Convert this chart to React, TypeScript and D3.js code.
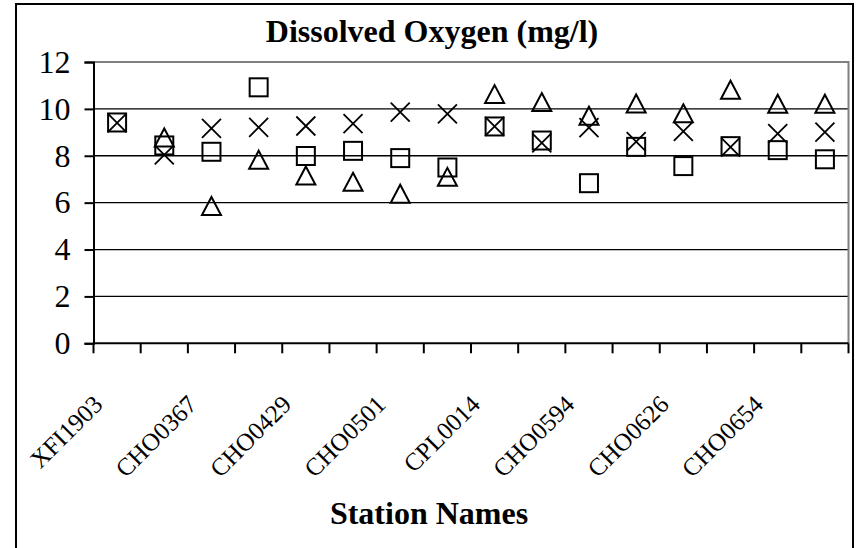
import React, { useEffect, useRef } from "react";
import * as d3 from "d3";

const stationLabels = ["XFI1903", "", "CHO0367", "", "CHO0429", "", "CHO0501", "", "CPL0014", "", "CHO0594", "", "CHO0626", "", "CHO0654", ""];
const squareSeries: (number | null)[] = [9.42, 8.44, 8.17, 10.92, 7.99, 8.21, 7.9, 7.5, 9.25, 8.65, 6.83, 8.38, 7.56, 8.41, 8.24, 7.85];
const triangleSeries: (number | null)[] = [null, 8.78, 5.86, 7.83, 7.16, 6.89, 6.38, 7.1, 10.63, 10.29, 9.71, 10.23, 9.81, 10.82, 10.22, 10.22];
const crossSeries: (number | null)[] = [9.4, 8.04, 9.17, 9.21, 9.27, 9.37, 9.86, 9.79, 9.25, 8.55, 9.2, 8.6, 9.04, 8.37, 8.94, 9.01];
const yTicks = [0, 2, 4, 6, 8, 10, 12];
const titleText = "Dissolved Oxygen (mg/l)";
const xTitleText = "Station Names";

const W = 858;
const H = 548;
const FONT = "'Liberation Serif', 'Times New Roman', serif";

export default function App() {
  const ref = useRef<SVGSVGElement | null>(null);

  useEffect(() => {
    const svg = d3.select(ref.current);
    svg.selectAll("*").remove();

    const plot = { left: 93.5, right: 848.5, top: 62, bottom: 343.3 };
    const idx = stationLabels.map((_, i) => i);
    const x = d3.scaleBand<number>().domain(idx).range([plot.left, plot.right]).padding(0);
    const y = d3.scaleLinear().domain([0, 12]).range([plot.bottom, plot.top]);

    svg.append("rect").attr("width", W).attr("height", H).attr("fill", "#fff");

    // outer border
    svg.append("rect")
      .attr("x", 16).attr("y", 4).attr("width", 837).attr("height", 570)
      .attr("fill", "none").attr("stroke", "#000").attr("stroke-width", 2);

    // gridlines
    svg.append("g").selectAll("line").data(yTicks.filter(t => t > 0 && t < 12)).join("line")
      .attr("x1", plot.left).attr("x2", plot.right)
      .attr("y1", d => y(d)).attr("y2", d => y(d))
      .attr("stroke", "#000").attr("stroke-width", 1.3);

    // plot area frame (gray top/right)
    svg.append("path")
      .attr("d", `M${plot.left},${plot.top}H${plot.right}V${plot.bottom}`)
      .attr("fill", "none").attr("stroke", "#808080").attr("stroke-width", 2);

    // y axis
    const yAxis = d3.axisLeft(y).tickValues(yTicks).tickSize(9).tickPadding(14);
    const gy = svg.append("g").attr("transform", `translate(${plot.left},0)`).call(yAxis);
    gy.select(".domain").attr("stroke", "#000").attr("stroke-width", 2);
    gy.selectAll(".tick line").attr("stroke", "#000").attr("stroke-width", 2);
    gy.selectAll(".tick text").attr("font-family", FONT).attr("font-size", 32).attr("fill", "#000");

    // x axis with boundary ticks
    const bounds = d3.range(stationLabels.length + 1).map(i => plot.left + i * x.bandwidth());
    svg.append("line").attr("x1", plot.left).attr("x2", plot.right).attr("y1", plot.bottom).attr("y2", plot.bottom)
      .attr("stroke", "#000").attr("stroke-width", 2);
    svg.append("g").selectAll("line").data(bounds).join("line")
      .attr("x1", d => d).attr("x2", d => d).attr("y1", plot.bottom).attr("y2", plot.bottom + 10)
      .attr("stroke", "#000").attr("stroke-width", 2);

    // x labels
    svg.append("g").selectAll("text").data(idx.filter(i => stationLabels[i] !== "")).join("text")
      .attr("x", 0).attr("y", 0)
      .attr("transform", i => `translate(${(x(i) as number) + x.bandwidth() / 2 - 13},${406}) rotate(-45)`)
      .attr("text-anchor", "end")
      .attr("font-family", FONT).attr("font-size", 25)
      .text(i => stationLabels[i]);

    const cx = (i: number) => (x(i) as number) + x.bandwidth() / 2;
    const g = svg.append("g").attr("fill", "none").attr("stroke", "#000");

    // triangles
    g.selectAll("path.tri").data(idx.filter(i => triangleSeries[i] != null)).join("path")
      .attr("class", "tri")
      .attr("d", "M0,-9 L9.5,9 L-9.5,9 Z")
      .attr("transform", i => `translate(${cx(i)},${y(triangleSeries[i] as number)})`)
      .attr("stroke-width", 2).attr("stroke-linejoin", "miter");

    // crosses
    g.selectAll("path.cross").data(idx.filter(i => crossSeries[i] != null)).join("path")
      .attr("class", "cross")
      .attr("d", "M-9.5,-9.5 L9.5,9.5 M9.5,-9.5 L-9.5,9.5")
      .attr("transform", i => `translate(${cx(i)},${y(crossSeries[i] as number)})`)
      .attr("stroke-width", 1.8);

    // squares
    g.selectAll("rect.sq").data(idx.filter(i => squareSeries[i] != null)).join("rect")
      .attr("class", "sq")
      .attr("x", i => cx(i) - 9).attr("y", i => y(squareSeries[i] as number) - 9)
      .attr("width", 18).attr("height", 18)
      .attr("stroke-width", 2);

    // titles
    svg.append("text").attr("x", 432).attr("y", 42).attr("text-anchor", "middle")
      .attr("font-family", FONT).attr("font-size", 32).attr("font-weight", "bold").text(titleText);
    svg.append("text").attr("x", 429).attr("y", 524).attr("text-anchor", "middle")
      .attr("font-family", FONT).attr("font-size", 32).attr("font-weight", "bold").text(xTitleText);
  }, []);

  return (
    <svg ref={ref} width={W} height={H} style={{ position: "absolute", left: 0, top: 0 }} />
  );
}
